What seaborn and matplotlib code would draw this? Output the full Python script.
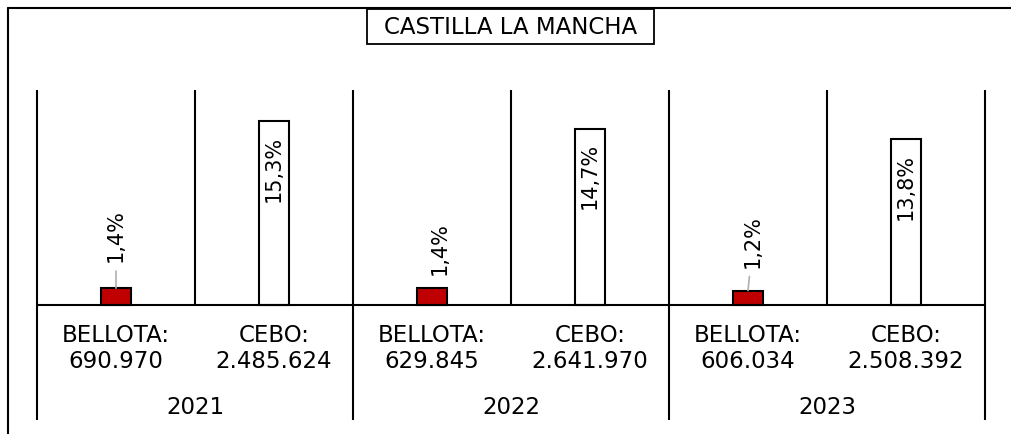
import matplotlib.pyplot as plt
import pandas as pd
import seaborn as sns
from matplotlib.patches import Rectangle

sns.set_theme(style='white')
plt.rcParams['font.family'] = ['DejaVu Sans']
plt.rcParams['text.color'] = 'black'

TITLE = 'CASTILLA LA MANCHA'
years = ['2021', '2022', '2023']
tipos = ['BELLOTA', 'CEBO']
bellota_pct = [1.4, 1.4, 1.2]
cebo_pct = [15.3, 14.7, 13.8]
bellota_cab = ['690.970', '629.845', '606.034']
cebo_cab = ['2.485.624', '2.641.970', '2.508.392']

RED = '#c00000'
# label nudges for the small bars (pixels) and whether a leader line shows
bellota_nudge = [(0, 26, True), (8, 13, False), (5, 23, True)]

rows = []
for i, yr in enumerate(years):
    rows.append({'slot': f'{yr} BELLOTA', 'tipo': 'BELLOTA', 'pct': bellota_pct[i],
                 'cab': bellota_cab[i], 'year': yr})
    rows.append({'slot': f'{yr} CEBO', 'tipo': 'CEBO', 'pct': cebo_pct[i],
                 'cab': cebo_cab[i], 'year': yr})
df = pd.DataFrame(rows)


def fmt(v):
    return f'{v:.1f}'.replace('.', ',') + '%'


W, H = 1011, 434
fig = plt.figure(figsize=(W / 100, H / 100), dpi=100)
ax = fig.add_axes([0, 0, 1, 1])

sns.barplot(
    data=df, x='slot', y='pct', hue='tipo', dodge=False, width=0.19,
    palette={'BELLOTA': RED, 'CEBO': 'white'}, saturation=1, edgecolor='black',
    linewidth=1.5, legend=False, ax=ax,
)

# pixel layout: slot centres every 158 px starting at 116, baseline at 305 px, 12 px per %
ax.set_xlim(-116 / 158, (W - 116) / 158)
ax.set_ylim((305 - H) / 12, 305 / 12)
ax.axis('off')

top_sep = (305 - 90) / 12
bottom_sep = (305 - 420) / 12
n = len(df)
ax.vlines([i - 0.5 for i in range(0, n + 1, 2)], bottom_sep, top_sep, color='black', lw=1.5)
ax.vlines([i + 0.5 for i in range(0, n, 2)], 0, top_sep, color='black', lw=1.5)
ax.hlines(0, -0.5, n - 0.5, color='black', lw=1.5)

# outer frame (top and left only)
ax.plot([8 / W, 1], [1 - 8 / H, 1 - 8 / H], transform=ax.transAxes,
        color='black', lw=1.5, clip_on=False)
ax.plot([8 / W, 8 / W], [0, 1 - 8 / H], transform=ax.transAxes,
        color='black', lw=1.5, clip_on=False)

# value labels
for i, row in df.iterrows():
    if row['tipo'] == 'CEBO':
        ax.text(i, row['pct'] - 1.2, fmt(row['pct']), rotation=90, ha='center',
                va='top', fontsize=15)
    else:
        dx, dy, leader = bellota_nudge[i // 2]
        ax.annotate(
            fmt(row['pct']), xy=(i, row['pct']), xytext=(dx, dy),
            textcoords='offset pixels', rotation=90, ha='center', va='bottom',
            fontsize=15,
            arrowprops=dict(arrowstyle='-', color='#b0b0b0', lw=1.2,
                            shrinkA=4, shrinkB=0) if leader else None,
        )
    ax.text(i, (305 - 335) / 12, row['tipo'] + ':', ha='center', va='center', fontsize=16.5)
    ax.text(i, (305 - 362) / 12, row['cab'], ha='center', va='center', fontsize=16.5)

for k, yr in enumerate(years):
    ax.text(2 * k + 0.5, (305 - 407) / 12, yr, ha='center', va='center', fontsize=16.5)

# title with its box
ax.add_patch(Rectangle((367 / W, 1 - 44 / H), 287 / W, 35 / H, transform=ax.transAxes,
                       facecolor='white', edgecolor='black', lw=1.3, clip_on=False))
ax.text((n - 1) / 2, (305 - 27) / 12, TITLE, ha='center', va='center', fontsize=16.5)

fig.savefig('out.png', dpi=100)
plt.close(fig)
